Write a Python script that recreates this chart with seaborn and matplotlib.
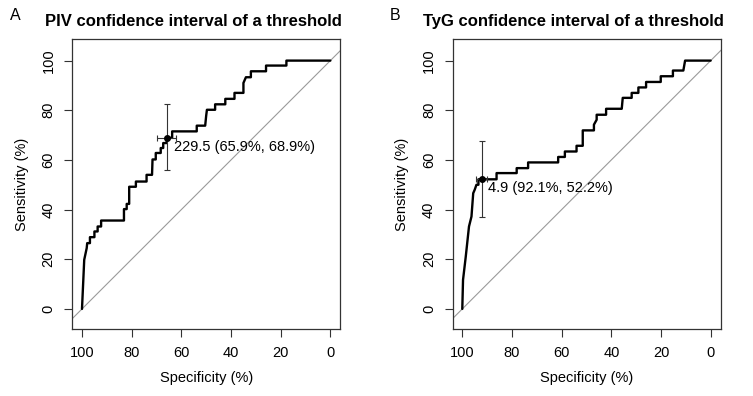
import seaborn as sns
import matplotlib.pyplot as plt
import pandas as pd

# ROC curve vertices: specificity (%) / sensitivity (%)
piv_spec = [100, 99.1, 98.1, 97.9, 96.8, 96.8, 95.0, 95.0, 93.7, 93.7, 92.3, 92.3,
            83.1, 83.1, 82.0, 82.0, 81.0, 81.0, 78.3, 78.3, 74.0, 74.0, 71.8, 71.6,
            70.3, 70.3, 68.3, 68.3, 67.3, 67.3, 65.9, 65.9, 63.7, 63.7, 53.8, 53.8,
            50.4, 50.0, 49.7, 46.4, 46.4, 42.3, 42.3, 38.6, 38.6, 35.0, 35.0, 34.0,
            32.0, 32.0, 25.9, 25.9, 17.7, 17.7, 0]
piv_sens = [0, 19.8, 24.5, 26.5, 26.5, 28.9, 28.9, 31.2, 31.2, 33.2, 33.2, 35.6,
            35.6, 40.2, 40.2, 42.3, 42.3, 49.2, 49.2, 51.3, 51.3, 54.0, 54.0, 60.2,
            60.2, 62.8, 62.8, 64.8, 64.8, 66.8, 66.8, 68.9, 68.9, 71.5, 71.5, 73.8,
            73.8, 77.8, 80.2, 80.2, 82.4, 82.4, 84.6, 84.6, 87.0, 87.0, 91.0, 93.3,
            93.3, 95.7, 95.7, 98.0, 98.0, 100, 100]

tyg_spec = [100, 99.7, 98.6, 97.3, 96.3, 95.6, 95.0, 94.3, 93.5, 93.5, 92.1,
            86.2, 86.2, 78.1, 78.1, 73.5, 73.5, 61.4, 61.4, 58.7, 58.7, 54.0, 54.0,
            51.5, 51.5, 47.0, 47.0, 45.9, 45.9, 42.1, 42.1, 35.8, 35.4, 31.8, 31.8,
            29.1, 29.1, 26.0, 26.0, 20.1, 20.1, 15.2, 15.2, 11.0, 10.3, 0]
tyg_sens = [0, 11.7, 21.1, 33.2, 37.2, 46.6, 48.0, 50.0, 50.0, 52.2, 52.2,
            52.2, 54.7, 54.7, 56.7, 56.7, 59.0, 59.0, 61.2, 61.2, 63.4, 63.4, 65.7,
            65.7, 71.9, 71.9, 74.2, 76.2, 78.2, 78.2, 80.6, 80.6, 85.0, 85.0, 87.0,
            87.0, 89.2, 89.2, 91.4, 91.4, 93.7, 93.7, 96.0, 96.0, 100, 100]

# thresholds: (threshold, spec, sens) and their confidence intervals
piv_thr = (229.5, 65.9, 68.9)
piv_spec_ci = (62.1, 69.9)
piv_sens_ci = (55.8, 82.5)
tyg_thr = (4.9, 92.1, 52.2)
tyg_spec_ci = (90.2, 94.6)
tyg_sens_ci = (37.2, 67.7)

titles = ["PIV confidence interval of a threshold", "TyG confidence interval of a threshold"]
letters = ["A", "B"]
ticks = [0, 20, 40, 60, 80, 100]

sns.set_style("white")
plt.rcParams['font.family'] = ['Liberation Sans', 'DejaVu Sans']
plt.rcParams.update({"text.color": "black", "axes.labelcolor": "black",
                     "xtick.color": "black", "ytick.color": "black"})

fig = plt.figure(figsize=(7.53, 3.96), dpi=100)
W, H = 753, 396
lefts = [72.3, 452.6]

panels = [
    (piv_spec, piv_sens, piv_thr, piv_spec_ci, piv_sens_ci, (-3.1, -3.5)),
    (tyg_spec, tyg_sens, tyg_thr, tyg_spec_ci, tyg_sens_ci, (-2.3, -3.6)),
]

for i, (spec, sens, thr, sci, eci, toff) in enumerate(panels):
    ax = fig.add_axes([lefts[i] / W, 1 - 329.3 / H, 268 / W, 290.3 / H])
    df = pd.DataFrame({"spec": spec, "sens": sens})
    ax.plot([104, -10], [-4, 110], color="#9a9a9a", lw=0.8, zorder=1)
    sns.lineplot(data=df, x="spec", y="sens", sort=False, estimator=None,
                 color="black", lw=1.7, ax=ax, zorder=3)
    t, sp, se = thr
    ax.errorbar([sp], [se], xerr=[[sp - sci[0]], [sci[1] - sp]],
                yerr=[[se - eci[0]], [eci[1] - se]], fmt="o", ms=4,
                color="black", ecolor="#333333", elinewidth=0.8, capsize=2.5,
                capthick=0.8, zorder=4)
    ax.text(sp + toff[0], se + toff[1], f"{t} ({sp}%, {se}%)", ha="left",
            va="center", fontsize=10.5)
    ax.set_xlim(103.9, -4.0)
    ax.set_ylim(-8.2, 108.7)
    ax.set_xticks(ticks[::-1])
    ax.set_yticks(ticks)
    ax.set_yticklabels(ticks, rotation=90, va="center")
    ax.tick_params(direction="out", length=6, width=0.8, labelsize=10.5, pad=6,
                   left=True, bottom=True, color="#333333")
    for s in ax.spines.values():
        s.set_color("#333333")
        s.set_linewidth(0.9)
    ax.set_xlabel("Specificity (%)", fontsize=10.5, labelpad=8)
    ax.set_ylabel("Sensitivity (%)", fontsize=10.5, labelpad=9)
    ax.text(121 / 268, 1 + 17.5 / 290, titles[i], transform=ax.transAxes,
            ha="center", va="center", fontsize=12, fontweight="bold")
    fig.text((lefts[i] - 57.5) / W, 1 - 15.5 / H, letters[i], ha="center",
             va="center", fontsize=11.5)

fig.savefig("out.png", dpi=100)
